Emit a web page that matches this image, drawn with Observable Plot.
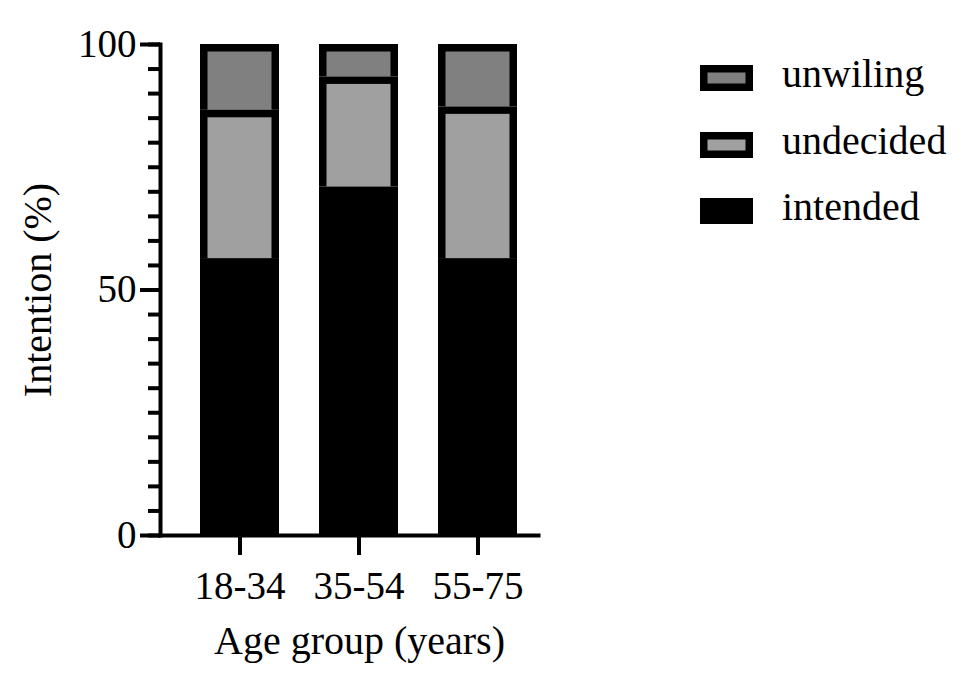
<!DOCTYPE html>
<html>
<head>
<meta charset="utf-8">
<script src="https://cdn.jsdelivr.net/npm/d3@7"></script>
<script src="https://cdn.jsdelivr.net/npm/@observablehq/plot@0.6"></script>
<style>
  html, body { margin: 0; padding: 0; background: #fff; }
  #wrap { position: relative; width: 974px; height: 687px; }
  #wrap > svg { position: absolute; left: 0; top: 0; }
</style>
</head>
<body>
<div id="wrap"></div>
<script>
// ---- data ----
const groups = ["18-34", "35-54", "55-75"];
const categories = ["intended", "undecided", "unwilling"];
const legendLabels = ["intended", "undecided", "unwiling"];
const intended = [56.4, 71.0, 56.4];
const undecided = [30.2, 22.4, 30.9];
const unwilling = [13.4, 6.6, 12.7];
const colors = ["#000000", "#a0a0a0", "#808080"];
const majorTicks = [0, 50, 100];
const minorTicks = d3.range(0, 101, 5);
const xTitle = "Age group (years)";
const yTitle = "Intention (%)";

const series = [intended, undecided, unwilling];
const data = [];
categories.forEach((c, ci) => groups.forEach((g, gi) => data.push({group: g, category: c, value: series[ci][gi]})));

const font = "'Liberation Serif', 'Times New Roman', serif";
const fs = 39;   // tick labels
const fsT = 40;  // titles and legend

const chart = Plot.plot({
  width: 974,
  height: 687,
  marginTop: 44,
  marginBottom: 152,
  marginLeft: 160,
  marginRight: 436,
  style: {fontFamily: font, fontSize: fs + "px", color: "#000", background: "#fff"},
  x: {domain: groups, paddingInner: 0.336, paddingOuter: 0.256, align: 0.656, axis: null},
  y: {domain: [0, 100], axis: null},
  color: {domain: categories, range: colors},
  marks: [
    Plot.barY(data, {x: "group", y: "value", z: "category", fill: "#000", inset: 0}),
    Plot.barY(data, {x: "group", y: "value", z: "category", fill: "category",
      insetLeft: 7.5, insetRight: 7.5, insetTop: 7.5, insetBottom: 0}),
    Plot.axisY({ticks: minorTicks, tickSize: 12, tickFormat: () => "", strokeWidth: 4, label: null}),
    Plot.axisY({ticks: majorTicks, tickSize: 20, tickPadding: 4, strokeWidth: 4,
      fontSize: fs, fontFamily: font, label: null}),
    Plot.axisX({tickSize: 20, tickPadding: 16, strokeWidth: 4, fontSize: fs, fontFamily: font, label: null}),
    Plot.frame({anchor: "left", strokeWidth: 4, strokeLinecap: "square"}),
    Plot.frame({anchor: "bottom", strokeWidth: 4, strokeLinecap: "square"}),
    Plot.text([xTitle], {text: d => d, frameAnchor: "bottom", lineAnchor: "bottom", dy: 118, dx: 10,
      fontSize: fsT, fontFamily: font, fill: "#000"}),
    Plot.text([yTitle], {text: d => d, frameAnchor: "left", textAnchor: "middle", lineAnchor: "bottom",
      rotate: -90, dx: -110, dy: 0, fontSize: fsT, fontFamily: font, fill: "#000"})
  ]
});
document.getElementById("wrap").appendChild(chart);

// ---- legend (overlay) ----
const leg = d3.select("#wrap").append("svg")
  .attr("width", 974).attr("height", 687)
  .style("pointer-events", "none");
const order = [2, 1, 0];
const rowY = [78, 145, 211];
order.forEach((ci, r) => {
  const cy = rowY[r];
  const g = leg.append("g");
  g.append("rect").attr("x", 700).attr("y", cy - 13).attr("width", 53).attr("height", 26).attr("fill", "#000");
  g.append("rect").attr("x", 707.5).attr("y", cy - 5.5).attr("width", 38).attr("height", 11).attr("fill", colors[ci]);
  g.append("text").attr("x", 782).attr("y", cy + 9)
    .attr("font-family", font).attr("font-size", fsT).attr("fill", "#000")
    .text(legendLabels[ci]);
});
</script>
</body>
</html>
